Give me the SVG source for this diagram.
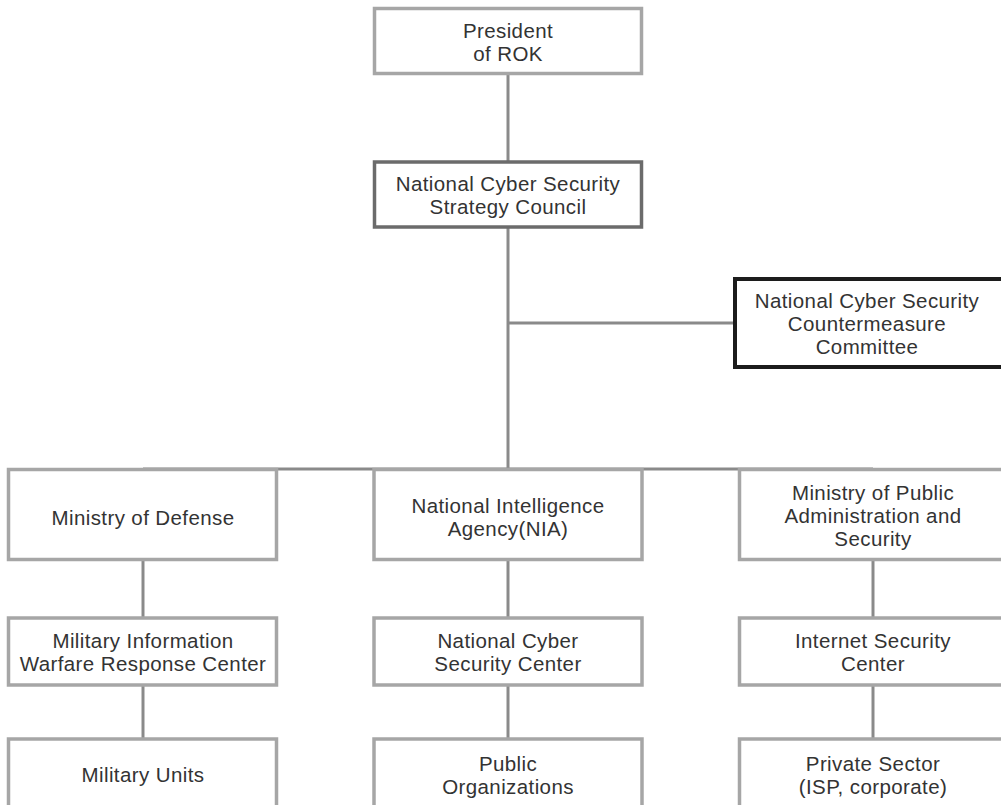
<svg xmlns="http://www.w3.org/2000/svg" width="1001" height="805" viewBox="0 0 1001 805">
<style>
.box{fill:#fff;stroke:#a6a6a6;stroke-width:3.5}
.dark{stroke:#6b6b6b}
.black{stroke:#1c1c1c;stroke-width:4}
.conn line{stroke:#8a8a8a;stroke-width:3}
text{font-family:"Liberation Sans",Arial,sans-serif;font-size:20.5px;letter-spacing:0.4px;fill:#333;text-anchor:middle}
</style>
<rect width="1001" height="805" fill="#fff"/>
<g id="connectors" class="conn">
<line x1="508" y1="74" x2="508" y2="162"/>
<line x1="508" y1="227" x2="508" y2="469"/>
<line x1="508" y1="323" x2="735" y2="323"/>
<line x1="143" y1="469" x2="873" y2="469"/>
<line x1="143" y1="560" x2="143" y2="618"/>
<line x1="508" y1="560" x2="508" y2="618"/>
<line x1="873" y1="560" x2="873" y2="618"/>
<line x1="143" y1="685" x2="143" y2="739"/>
<line x1="508" y1="685" x2="508" y2="739"/>
<line x1="873" y1="685" x2="873" y2="739"/>
</g>
<g id="president">
<rect class="box" x="374.5" y="8.5" width="267" height="65"/>
<text x="508" y="38">President</text>
<text x="508" y="61">of ROK</text>
</g>
<g id="council">
<rect class="box dark" x="374.5" y="162" width="267" height="65"/>
<text x="508" y="191">National Cyber Security</text>
<text x="508" y="214">Strategy Council</text>
</g>
<g id="committee">
<rect class="box black" x="735" y="279" width="290" height="88"/>
<text x="867" y="308">National Cyber Security</text>
<text x="867" y="331">Countermeasure</text>
<text x="867" y="354">Committee</text>
</g>
<g id="mod">
<rect class="box" x="8.5" y="469.5" width="268" height="90"/>
<text x="143" y="525">Ministry of Defense</text>
</g>
<g id="nia">
<rect class="box" x="374" y="469.5" width="268" height="90"/>
<text x="508" y="513">National Intelligence</text>
<text x="508" y="536">Agency(NIA)</text>
</g>
<g id="mopas">
<rect class="box" x="739.5" y="469.5" width="290" height="90"/>
<text x="873" y="500">Ministry of Public</text>
<text x="873" y="523">Administration and</text>
<text x="873" y="546">Security</text>
</g>
<g id="miwrc">
<rect class="box" x="8.5" y="618" width="268" height="67"/>
<text x="143" y="648">Military Information</text>
<text x="143" y="671">Warfare Response Center</text>
</g>
<g id="ncsc">
<rect class="box" x="374" y="618" width="268" height="67"/>
<text x="508" y="648">National Cyber</text>
<text x="508" y="671">Security Center</text>
</g>
<g id="isc">
<rect class="box" x="739.5" y="618" width="290" height="67"/>
<text x="873" y="648">Internet Security</text>
<text x="873" y="671">Center</text>
</g>
<g id="units">
<rect class="box" x="8.5" y="739" width="268" height="90"/>
<text x="143" y="782">Military Units</text>
</g>
<g id="public">
<rect class="box" x="374" y="739" width="268" height="90"/>
<text x="508" y="771">Public</text>
<text x="508" y="794">Organizations</text>
</g>
<g id="private">
<rect class="box" x="739.5" y="739" width="290" height="90"/>
<text x="873" y="771">Private Sector</text>
<text x="873" y="794">(ISP, corporate)</text>
</g>
</svg>
